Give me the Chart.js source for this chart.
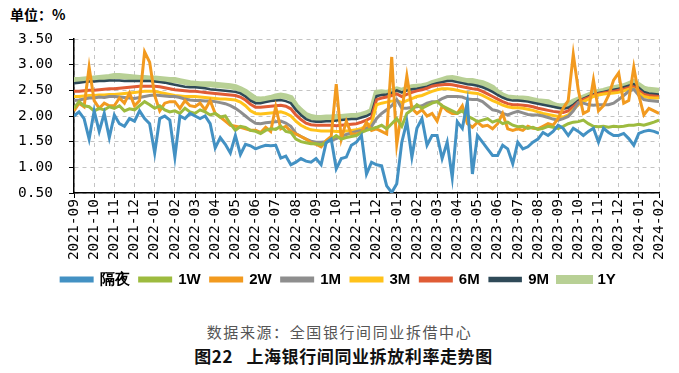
<!DOCTYPE html>
<html>
<head>
<meta charset="utf-8">
<script src="https://cdn.jsdelivr.net/npm/chart.js@4"></script>
<style>
body{margin:0;width:679px;height:373px;background:#fff;position:relative;overflow:hidden;font-family:"Noto Sans CJK SC",sans-serif}
#unit{position:absolute;left:10px;top:4px;font-size:14px;font-weight:bold;color:#000}
#box{position:absolute;left:0;top:26px;width:679px;height:271px}
#src{position:absolute;left:0;width:679px;top:321px;text-align:center;font-size:15px;letter-spacing:1.6px;color:#555}
#ttl{position:absolute;left:4px;width:679px;top:343px;text-align:center;font-size:17px;letter-spacing:0.6px;font-weight:bold;color:#111;white-space:pre}
</style>
</head>
<body>
<div id="unit">单位：%</div>
<div id="box"><canvas id="rateChart"></canvas></div>
<div id="src">数据来源：全国银行间同业拆借中心</div>
<div id="ttl">图22   上海银行间同业拆放利率走势图</div>
<script>
// monthly tick labels, 4 readings per month
const months = ['2021-09','2021-10','2021-11','2021-12','2022-01','2022-02','2022-03','2022-04','2022-05','2022-06','2022-07','2022-08','2022-09','2022-10','2022-11','2022-12','2023-01','2023-02','2023-03','2023-04','2023-05','2023-06','2023-07','2023-08','2023-09','2023-10','2023-11','2023-12','2024-01','2024-02']
const PER_MONTH = 4
const yTicks = [0.5,1.0,1.5,2.0,2.5,3.0,3.5]

const overnight = [
2.00,2.08,1.95,1.55, 2.10,1.70,2.05,1.58, 2.02,1.85,1.80,1.95, 1.90,2.10,1.95,1.85,
1.28,1.95,2.00,1.92, 1.20,2.00,1.95,2.05, 2.00,1.95,2.00,1.85, 1.38,1.58,1.45,1.28,
1.62,1.25,1.45,1.42, 1.36,1.40,1.43,1.42, 1.43,1.18,1.22,1.05, 1.10,1.17,1.12,1.10,
1.17,1.05,1.48,1.55, 0.97,1.17,1.20,1.43, 1.49,1.62,0.87,1.10, 1.05,1.03,0.64,0.51,
0.68,1.49,1.89,1.20, 1.76,1.95,1.43,1.62, 1.62,1.17,1.49,0.80, 1.89,1.76,2.28,0.87,
1.62,1.49,1.36,1.23, 1.23,1.43,1.36,1.07, 1.49,1.36,1.40,1.49, 1.55,1.68,1.62,1.70,
1.82,1.76,1.62,1.76, 1.70,1.62,1.70,1.76, 1.49,1.76,1.68,1.62, 1.62,1.66,1.56,1.43,
1.66,1.70,1.72,1.70, 1.66]
const w1 = [
2.15,2.28,2.20,2.18, 2.10,2.15,2.12,2.18, 2.15,2.20,2.10,2.14, 2.12,2.20,2.28,2.22,
2.15,2.20,2.12,2.08, 2.10,2.05,2.15,2.08, 2.05,2.12,2.08,2.02, 2.05,1.98,2.00,1.85,
1.72,1.80,1.78,1.72, 1.70,1.66,1.72,1.75, 1.74,1.80,1.70,1.68, 1.55,1.50,1.48,1.46,
1.46,1.44,1.48,1.55, 1.62,1.55,1.58,1.60, 1.62,1.68,1.72,1.75, 1.78,1.82,1.75,1.85,
1.95,1.80,2.05,2.12, 2.22,2.15,2.20,2.25, 2.28,2.20,2.15,2.10, 2.05,2.10,2.00,1.95,
1.89,1.92,1.95,1.88, 1.92,1.85,1.88,1.82, 1.79,1.80,1.76,1.78, 1.74,1.76,1.80,1.78,
1.76,1.80,1.85,1.88, 1.89,1.92,1.85,1.80, 1.79,1.80,1.78,1.80, 1.79,1.80,1.82,1.82,
1.84,1.82,1.85,1.88, 1.92]
const w2 = [
2.10,2.25,2.18,2.95, 2.30,2.15,2.25,2.20, 2.20,2.35,2.25,2.45, 2.20,2.30,3.25,3.05,
2.40,2.10,2.25,2.28, 2.28,2.15,2.30,2.20, 2.18,2.25,2.12,2.30, 2.05,1.98,1.90,1.82,
1.80,1.78,1.75,1.72, 1.72,1.68,1.78,1.70, 2.18,1.75,1.80,1.70, 1.65,1.60,1.55,1.48,
1.45,1.40,1.52,1.60, 2.62,1.55,1.90,1.65, 1.65,1.68,1.88,1.72, 1.75,1.70,1.65,3.15,
1.45,2.10,2.78,2.15, 2.05,2.12,2.00,2.05, 1.90,2.20,2.10,2.05, 2.05,2.20,1.85,1.78,
1.88,1.80,1.82,1.75, 1.85,2.05,1.75,1.72, 1.75,1.72,1.80,1.76, 1.75,1.80,1.85,1.82,
1.95,2.15,2.30,3.20, 2.50,2.05,2.10,2.70, 2.10,2.20,2.40,2.70, 2.84,2.25,2.30,2.95,
2.40,2.02,2.15,2.10, 2.05]
const m1 = [
2.30,2.31,2.33,2.35, 2.35,2.37,2.36,2.38, 2.38,2.37,2.36,2.35, 2.34,2.36,2.38,2.40,
2.41,2.40,2.39,2.38, 2.38,2.36,2.33,2.31, 2.30,2.30,2.29,2.29, 2.28,2.26,2.24,2.20,
2.15,2.08,2.00,1.92, 1.86,1.85,1.87,1.88, 1.89,1.90,1.86,1.80, 1.66,1.60,1.55,1.51,
1.49,1.49,1.50,1.52, 1.56,1.60,1.64,1.67, 1.70,1.72,1.76,1.80, 1.95,2.05,2.12,2.20,
2.32,2.15,2.15,2.17, 2.18,2.20,2.25,2.28, 2.28,2.34,2.38,2.38, 2.38,2.37,2.33,2.32,
2.32,2.28,2.20,2.12, 2.10,2.05,2.02,2.06, 2.09,2.06,2.03,2.02, 2.02,2.00,1.97,1.94,
1.92,1.95,1.99,2.10, 2.26,2.25,2.22,2.21, 2.22,2.22,2.22,2.25, 2.32,2.40,2.48,2.52,
2.40,2.32,2.30,2.29, 2.28]
const m3 = [
2.38,2.38,2.39,2.40, 2.40,2.41,2.41,2.42, 2.42,2.43,2.44,2.45, 2.46,2.47,2.48,2.48,
2.48,2.46,2.44,2.42, 2.40,2.39,2.38,2.38, 2.38,2.37,2.36,2.35, 2.34,2.33,2.33,2.32,
2.31,2.27,2.20,2.10, 2.05,2.04,2.05,2.06, 2.07,2.08,2.05,2.00, 1.90,1.82,1.77,1.73,
1.72,1.71,1.71,1.71, 1.70,1.70,1.71,1.72, 1.73,1.76,1.80,1.86, 2.22,2.25,2.27,2.29,
2.30,2.26,2.30,2.34, 2.38,2.40,2.44,2.48, 2.51,2.53,2.53,2.52, 2.50,2.48,2.46,2.45,
2.44,2.40,2.35,2.30, 2.26,2.21,2.18,2.16, 2.16,2.15,2.13,2.11, 2.08,2.05,2.03,2.01,
1.99,1.98,2.02,2.12, 2.22,2.28,2.33,2.38, 2.41,2.43,2.44,2.45, 2.46,2.49,2.52,2.53,
2.45,2.38,2.36,2.35, 2.35]
const m6 = [
2.48,2.48,2.49,2.50, 2.50,2.51,2.52,2.53, 2.53,2.54,2.55,2.56, 2.57,2.58,2.58,2.58,
2.58,2.57,2.55,2.53, 2.51,2.50,2.49,2.48, 2.48,2.47,2.46,2.45, 2.44,2.43,2.42,2.41,
2.40,2.37,2.31,2.23, 2.17,2.17,2.18,2.19, 2.20,2.21,2.19,2.14, 2.02,1.93,1.86,1.83,
1.82,1.82,1.82,1.82, 1.81,1.82,1.83,1.84, 1.85,1.88,1.92,1.97, 2.32,2.35,2.37,2.40,
2.43,2.38,2.42,2.46, 2.49,2.51,2.54,2.58, 2.60,2.61,2.62,2.61, 2.59,2.57,2.55,2.53,
2.52,2.48,2.43,2.38, 2.33,2.28,2.24,2.22, 2.22,2.21,2.20,2.18, 2.15,2.13,2.11,2.09,
2.08,2.07,2.10,2.18, 2.27,2.32,2.36,2.40, 2.43,2.45,2.47,2.48, 2.50,2.52,2.55,2.57,
2.50,2.42,2.40,2.39, 2.38]
const m9 = [
2.64,2.65,2.66,2.67, 2.67,2.68,2.68,2.69, 2.69,2.69,2.68,2.68, 2.68,2.68,2.68,2.68,
2.67,2.66,2.65,2.63, 2.61,2.59,2.57,2.56, 2.56,2.55,2.54,2.52, 2.51,2.50,2.49,2.48,
2.47,2.44,2.38,2.30, 2.25,2.25,2.27,2.29, 2.30,2.31,2.29,2.25, 2.12,2.02,1.94,1.90,
1.89,1.89,1.90,1.90, 1.91,1.92,1.93,1.94, 1.94,1.97,2.00,2.05, 2.39,2.41,2.42,2.45,
2.50,2.46,2.50,2.52, 2.53,2.55,2.57,2.61, 2.64,2.66,2.68,2.68, 2.66,2.64,2.62,2.61,
2.59,2.56,2.52,2.47, 2.41,2.36,2.32,2.30, 2.30,2.29,2.28,2.26, 2.24,2.22,2.20,2.18,
2.16,2.14,2.16,2.22, 2.30,2.34,2.38,2.42, 2.45,2.47,2.49,2.51, 2.53,2.56,2.59,2.62,
2.55,2.47,2.44,2.43, 2.42]
const y1 = [
2.70,2.70,2.71,2.72, 2.73,2.74,2.75,2.76, 2.78,2.78,2.77,2.76, 2.75,2.74,2.74,2.73,
2.73,2.72,2.71,2.70, 2.70,2.68,2.66,2.64, 2.63,2.62,2.62,2.62, 2.61,2.60,2.59,2.58,
2.56,2.52,2.47,2.40, 2.33,2.32,2.33,2.35, 2.38,2.40,2.38,2.35, 2.20,2.10,2.02,1.98,
1.96,1.96,1.97,1.97, 1.98,1.98,1.99,2.00, 2.00,2.02,2.05,2.10, 2.45,2.46,2.45,2.48,
2.52,2.49,2.53,2.56, 2.57,2.58,2.60,2.64, 2.67,2.70,2.73,2.74, 2.72,2.70,2.68,2.68,
2.66,2.64,2.60,2.55, 2.46,2.40,2.36,2.35, 2.34,2.34,2.33,2.31, 2.29,2.28,2.27,2.22,
2.19,2.19,2.22,2.28, 2.32,2.36,2.40,2.44, 2.47,2.49,2.52,2.54, 2.56,2.58,2.62,2.66,
2.60,2.53,2.51,2.50, 2.49]

const seriesNames = ['隔夜','1W','2W','1M','3M','6M','9M','1Y']
const seriesData = [overnight,w1,w2,m1,m3,m6,m9,y1]
const seriesColors = ['#4391c3','#9dbb3f','#f29a1f','#8e8e8e','#ffc21a','#e05c35','#2f4a58','#b8d095']
const seriesWidths = [3,3,3,3,3,3,2.5,6]

const toPoints = arr => arr.map((v,i) => ({x: i / PER_MONTH, y: v}))

Chart.defaults.font.family = "'DejaVu Sans Mono', monospace"
Chart.defaults.color = '#000'

// the original legend sits a little right of centre
const legendNudge = {
id:'legendNudge',
afterLayout(chart){
chart.legend.left += 9
chart.legend.right += 9
}
}

const ctx = document.getElementById('rateChart')

new Chart(ctx,{
type:'line',
data:{
datasets: seriesNames.map((name,k) => ({
label:name,
data:toPoints(seriesData[k]),
borderColor:seriesColors[k],
backgroundColor:seriesColors[k],
borderWidth:seriesWidths[k],
pointRadius:0,
tension:0
}))
},
options:{
responsive:true,
maintainAspectRatio:false,
animation:false,
layout:{padding:{top:13,right:20,left:0,bottom:0}},
plugins:{
tooltip:{enabled:false},
legend:{
position:'bottom',
labels:{
boxWidth:31,
boxHeight:3,
padding:10,
color:'#000',
font:{family:"'Liberation Sans Narrow','Liberation Sans',sans-serif",size:15,weight:'bold'}
}
}
},
scales:{
x:{
type:'linear',
min:0,
max:months.length - 1,
afterFit: s => { s.height = 69 },
ticks:{
stepSize:1,
autoSkip:false,
maxRotation:90,
minRotation:90,
padding:1,
font:{size:14.5},
callback: v => months[v]
},
grid:{color:'#c4c4c4',tickColor:'#000',tickLength:5},
border:{color:'#000',width:1.5,dash:[4,4]}
},
y:{
min:0.5,
max:3.5,
afterFit: s => { s.width = 74; s.paddingTop = 0; s.paddingBottom = 0 },
afterBuildTicks: s => { s.ticks = yTicks.map(v => ({value:v})) },
ticks:{
padding:16,
font:{size:14.5},
callback: v => v.toFixed(2)
},
grid:{color:'#c4c4c4',tickColor:'#000',tickLength:5},
border:{color:'#000',width:1.5,dash:[4,4]}
}
}
},
plugins:[legendNudge]
})
</script>
</body>
</html>
